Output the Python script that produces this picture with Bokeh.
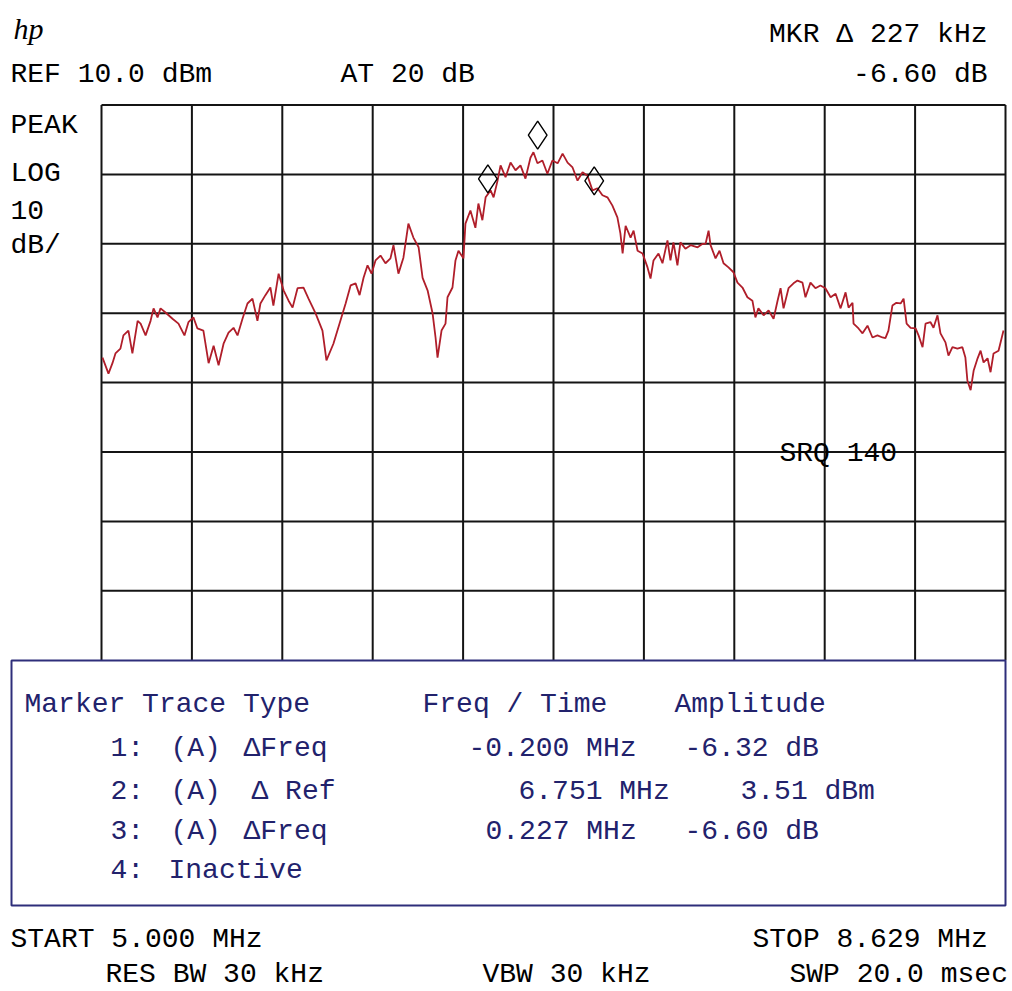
from bokeh.plotting import figure
from bokeh.models import Range1d
from bokeh.core.properties import value
from bokeh.embed import file_html
from bokeh.resources import INLINE

# ---------------- data ----------------
START_MHZ = 5.000
STOP_MHZ = 8.629
REF_DBM = 10.0
DB_PER_DIV = 10.0
N_XDIV = 10
N_YDIV_VISIBLE = 8

freq_mhz = [
    5.004, 5.028, 5.044, 5.056, 5.076, 5.088, 5.108, 5.124, 5.145, 5.157,
    5.177, 5.197, 5.209, 5.225, 5.237, 5.257, 5.285, 5.309, 5.333, 5.349,
    5.369, 5.385, 5.409, 5.430, 5.450, 5.470, 5.490, 5.510, 5.530, 5.546,
    5.566, 5.586, 5.606, 5.626, 5.638, 5.658, 5.678, 5.690, 5.711, 5.731,
    5.751, 5.767, 5.787, 5.811, 5.831, 5.859, 5.887, 5.903, 5.931, 5.959,
    5.980, 6.000, 6.020, 6.036, 6.052, 6.068, 6.084, 6.100, 6.120, 6.140,
    6.160, 6.172, 6.192, 6.212, 6.232, 6.252, 6.273, 6.289, 6.309, 6.329,
    6.341, 6.349, 6.365, 6.381, 6.389, 6.409, 6.421, 6.433, 6.453, 6.461,
    6.481, 6.501, 6.513, 6.529, 6.542, 6.562, 6.574, 6.590, 6.602, 6.622,
    6.642, 6.662, 6.682, 6.702, 6.722, 6.734, 6.750, 6.770, 6.790, 6.810,
    6.831, 6.851, 6.871, 6.891, 6.911, 6.931, 6.951, 6.971, 6.991, 7.011,
    7.031, 7.051, 7.071, 7.083, 7.092, 7.104, 7.124, 7.136, 7.152, 7.172,
    7.192, 7.204, 7.216, 7.236, 7.252, 7.272, 7.284, 7.296, 7.312, 7.324,
    7.344, 7.365, 7.393, 7.413, 7.425, 7.437, 7.445, 7.465, 7.481, 7.497,
    7.517, 7.537, 7.553, 7.573, 7.593, 7.613, 7.625, 7.637, 7.658, 7.678,
    7.698, 7.714, 7.726, 7.738, 7.758, 7.778, 7.794, 7.814, 7.826, 7.846,
    7.866, 7.886, 7.906, 7.927, 7.947, 7.967, 7.987, 7.999, 8.015, 8.019,
    8.039, 8.055, 8.075, 8.095, 8.115, 8.135, 8.147, 8.159, 8.175, 8.191,
    8.208, 8.220, 8.232, 8.248, 8.268, 8.280, 8.296, 8.308, 8.328, 8.340,
    8.356, 8.368, 8.388, 8.400, 8.416, 8.436, 8.456, 8.468, 8.476, 8.489,
    8.501, 8.517, 8.529, 8.541, 8.557, 8.569, 8.581, 8.601, 8.621,
]

level_dbm = [
    -26.4, -28.7, -27.2, -25.8, -25.1, -23.2, -22.5, -25.8, -21.1, -21.5,
    -23.2, -21.1, -19.3, -20.6, -19.3, -19.9, -20.8, -21.5, -23.2, -21.3,
    -20.6, -22.2, -22.5, -27.2, -24.7, -27.5, -24.4, -22.8, -22.1, -23.2,
    -20.8, -18.6, -17.9, -21.1, -18.6, -17.4, -16.3, -18.9, -14.3, -16.7,
    -18.2, -19.2, -16.4, -16.3, -17.9, -20.0, -22.5, -26.8, -24.4, -21.1,
    -18.6, -16.0, -15.7, -17.4, -14.9, -13.1, -14.3, -12.4, -11.7, -12.8,
    -12.1, -10.2, -14.3, -12.0, -7.1, -9.1, -10.5, -14.9, -16.7, -20.0,
    -23.5, -26.4, -22.5, -21.5, -17.7, -16.3, -12.4, -11.0, -12.1, -7.1,
    -5.2, -7.7, -4.2, -6.6, -3.3, -2.3, -3.3, -0.9, 1.3, -0.4,
    1.7, 0.6, 1.3, -0.6, 2.4, 3.2, 1.6, 2.0, 0.1, 2.0,
    1.6, 3.0, 1.7, 1.0, -0.9, 0.3, -0.2, -2.3, -2.0, -3.0,
    -3.3, -4.5, -6.2, -8.5, -11.4, -7.4, -9.1, -8.1, -11.0, -11.4,
    -13.4, -15.0, -12.4, -11.4, -12.8, -9.5, -12.4, -9.8, -13.1, -9.8,
    -10.7, -10.2, -10.5, -10.0, -10.0, -8.1, -10.2, -12.1, -11.0, -12.8,
    -13.4, -14.1, -15.6, -16.3, -17.7, -18.2, -20.6, -19.3, -20.3, -19.6,
    -20.8, -18.2, -16.4, -19.3, -16.4, -15.7, -15.3, -15.6, -17.7, -15.6,
    -16.4, -16.0, -16.4, -17.7, -17.2, -19.3, -17.0, -19.2, -18.5, -21.5,
    -22.2, -22.9, -21.8, -23.5, -23.2, -23.5, -23.6, -22.5, -18.9, -18.5,
    -18.6, -17.9, -21.5, -22.1, -22.2, -23.2, -24.9, -21.5, -21.3, -22.1,
    -20.3, -22.9, -24.2, -26.1, -24.9, -25.1, -24.9, -26.4, -29.7, -31.1,
    -28.3, -26.5, -25.4, -27.1, -26.5, -28.5, -25.8, -25.4, -22.5,
]

# marker table
ref_marker_freq = 6.751   # MHz, marker 2
ref_marker_amp = 3.51     # dBm
delta_freq_mhz = [-0.200, 0.227]   # markers 1 and 3
delta_amp_db = [-6.32, -6.60]

# ---------------- layout ----------------
W, H = 1010, 989
OX, OY = 0, 0                   # page pixel of the figure's top-left corner
GRID_L, GRID_R, GRID_T = 101, 1005, 104.5
DIV_PX = 69.4
PX_MHZ = (GRID_R - GRID_L) / (STOP_MHZ - START_MHZ)
PX_DB = DIV_PX / DB_PER_DIV
TEXT_DY = -9                    # compensate svg baseline placement

x0 = START_MHZ - (GRID_L - OX) / PX_MHZ
y_top = REF_DBM + (GRID_T - OY) / PX_DB


def X(px):
    return x0 + (px - OX) / PX_MHZ


def Y(py):
    return y_top - (py - OY) / PX_DB


p = figure(width=W, height=H,
           x_range=Range1d(x0, x0 + W / PX_MHZ),
           y_range=Range1d(y_top - H / PX_DB, y_top),
           output_backend="svg", toolbar_location=None, min_border=0,
           x_axis_location=None, y_axis_location=None,
           outline_line_color=None, background_fill_color="white",
           border_fill_color="white")
p.grid.visible = False

GRID_COLOR = "#141414"
bottom_db = REF_DBM - N_YDIV_VISIBLE * DB_PER_DIV
span = STOP_MHZ - START_MHZ
xs = [START_MHZ + i * span / N_XDIV for i in range(N_XDIV + 1)]
p.segment(x0=xs, y0=[REF_DBM] * len(xs), x1=xs, y1=[bottom_db] * len(xs),
          line_color=GRID_COLOR, line_width=2)
ys = [REF_DBM - j * DB_PER_DIV for j in range(N_YDIV_VISIBLE)]
p.segment(x0=[START_MHZ] * len(ys), y0=ys, x1=[STOP_MHZ] * len(ys), y1=ys,
          line_color=GRID_COLOR, line_width=2)

# trace
p.line(freq_mhz, level_dbm, line_color="#b01e2a", line_width=1.8)

# markers (diamond sits just above the marked point)
mk_f = [ref_marker_freq + delta_freq_mhz[0], ref_marker_freq, ref_marker_freq + delta_freq_mhz[1]]
mk_a = [ref_marker_amp + delta_amp_db[0], ref_marker_amp, ref_marker_amp + delta_amp_db[1]]
p.scatter(mk_f, [a + 15 / PX_DB for a in mk_a], marker="diamond", size=28,
          fill_color=None, line_color="black", line_width=1.4)

# marker table box
BOX_COLOR = "#2e2e7a"
p.quad(left=[X(11)], right=[X(1005)], top=[Y(660)], bottom=[Y(905)],
       fill_color="white", line_color=BOX_COLOR, line_width=2)

MONO = "Liberation Mono"
FS = "28px"


def add_text(txt, px, py, color="black", align="left", font=MONO, size=FS, style="normal"):
    p.text(x=[X(px)], y=[Y(py + TEXT_DY)], text=[txt], text_font=value(font),
           text_font_size=size, text_color=color, text_align=align,
           text_baseline="alphabetic", text_font_style=style)


# header
add_text("hp", 13, 37, font="Liberation Serif", size="30px", style="italic")
add_text(f"REF {REF_DBM:.1f} dBm", 10, 83)
add_text("AT 20 dB", 340, 83)
add_text(f"MKR \u0394 {delta_freq_mhz[1]*1000:.0f} kHz", 987, 43, align="right")
add_text(f"{delta_amp_db[1]:.2f} dB", 987, 83, align="right")
add_text("PEAK", 10, 134)
add_text("LOG", 10, 182)
add_text(f"{DB_PER_DIV:.0f}", 10, 218)
add_text("dB/", 10, 254)
add_text("SRQ 140", 779, 462)

# marker table
NAVY = "#22226c"
add_text("Marker Trace Type", 24, 713, NAVY)
add_text("Freq / Time", 422, 713, NAVY)
add_text("Amplitude", 674, 713, NAVY)

rows_y = [757, 800, 840, 879]
add_text("1:", 110, rows_y[0], NAVY)
add_text("(A)", 170, rows_y[0], NAVY)
add_text("\u0394Freq", 243, rows_y[0], NAVY)
add_text(f"{delta_freq_mhz[0]:.3f} MHz", 468, rows_y[0], NAVY)
add_text(f"{delta_amp_db[0]:.2f} dB", 684, rows_y[0], NAVY)

add_text("2:", 110, rows_y[1], NAVY)
add_text("(A)", 170, rows_y[1], NAVY)
add_text("\u0394 Ref", 251, rows_y[1], NAVY)
add_text(f"{ref_marker_freq:.3f} MHz", 518, rows_y[1], NAVY)
add_text(f"{ref_marker_amp:.2f} dBm", 740, rows_y[1], NAVY)

add_text("3:", 110, rows_y[2], NAVY)
add_text("(A)", 170, rows_y[2], NAVY)
add_text("\u0394Freq", 243, rows_y[2], NAVY)
add_text(f"{delta_freq_mhz[1]:.3f} MHz", 485, rows_y[2], NAVY)
add_text(f"{delta_amp_db[1]:.2f} dB", 684, rows_y[2], NAVY)

add_text("4:", 110, rows_y[3], NAVY)
add_text("Inactive", 168, rows_y[3], NAVY)

# footer
add_text(f"START {START_MHZ:.3f} MHz", 10, 948)
add_text(f"STOP {STOP_MHZ:.3f} MHz", 752, 948)
add_text("RES BW 30 kHz", 105, 983)
add_text("VBW 30 kHz", 482, 983)
add_text("SWP 20.0 msec", 789, 983)

open("out.html", "w").write(file_html(p, INLINE))
